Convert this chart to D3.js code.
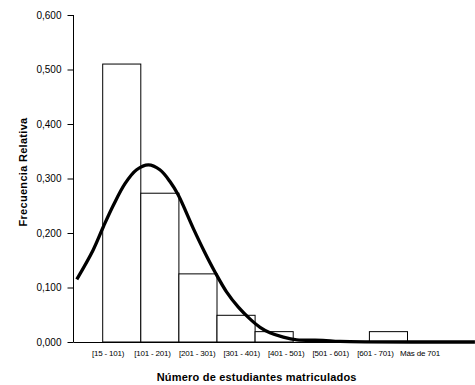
<!DOCTYPE html>
<html>
<head>
<meta charset="utf-8">
<script src="https://cdn.jsdelivr.net/npm/d3@7"></script>
<style>
	body { margin: 0; background: #fff; }
	text { font-family: "Liberation Sans", Arial, sans-serif; fill: #000; }
</style>
</head>
<body>
<div id="chart"></div>
<script>
// Class labels (x axis)
var categories = ["[15 - 101)", "[101 - 201)", "[201 - 301)", "[301 - 401)", "[401 - 501)", "[501 - 601)", "[601 - 701)", "Más de 701"];
// Relative frequency of each class (bar slot index, value)
var barSlots = [0, 1, 2, 3, 4, 5, 6, 7];
var barValues = [0.510, 0.273, 0.125, 0.049, 0.019, 0, 0, 0.019];
// Fitted curve (position in class widths, value)
var curveX = [-0.68, -0.25, 0.02, 0.28, 0.59, 0.89, 1.20, 1.50, 1.77, 1.98, 2.38, 2.66, 2.95, 3.25, 3.56, 3.87, 4.13, 4.39, 4.74, 5.09, 5.78, 6.23, 8.67, 9.77];
var curveY = [0.115, 0.169, 0.212, 0.251, 0.291, 0.316, 0.325, 0.316, 0.294, 0.270, 0.208, 0.167, 0.128, 0.092, 0.064, 0.042, 0.027, 0.017, 0.009, 0.004, 0.003, 0.001, 0.000, 0.000];
// Y ticks
var yTicks = [0, 0.1, 0.2, 0.3, 0.4, 0.5, 0.6];

var width = 475;
var height = 385;

var svg = d3.select("#chart").append("svg")
	.attr("width", width)
	.attr("height", height);

// Scales
var x = d3.scaleLinear()
	.domain([0, 8])
	.range([102.7, 407.5]);
var y = d3.scaleLinear()
	.domain([0, 0.6])
	.range([342, 15]);
var xLabel = d3.scalePoint()
	.domain(categories)
	.range([108, 420]);

var es = d3.formatLocale({decimal: ",", thousands: ".", grouping: [3], currency: ["", ""]});

// Y axis
var yAxis = svg.append("g")
	.attr("transform", "translate(73.5,0)")
	.call(d3.axisLeft(y).tickValues(yTicks).tickFormat(es.format(".3f")).tickSize(6).tickPadding(6));
yAxis.select(".domain").attr("d", "M0," + y(0.6) + "V" + y(0) + "").attr("stroke", "#000");
yAxis.selectAll(".tick line").attr("stroke", "#000");
yAxis.selectAll("text").style("font-size", "10px").attr("fill", "#000");

// Bars
svg.append("g")
	.selectAll("rect")
	.data(barSlots.filter(function(d, i){ return barValues[i] > 0; }))
	.enter().append("rect")
	.attr("x", function(d){ return x(d); })
	.attr("width", function(d){ return x(d + 1) - x(d); })
	.attr("y", function(d){ return y(barValues[d]); })
	.attr("height", function(d){ return y(0) - y(barValues[d]); })
	.attr("fill", "#fff")
	.attr("stroke", "#000")
	.attr("stroke-width", 1);

// X axis baseline
svg.append("line")
	.attr("x1", 73.5)
	.attr("x2", x(9.3))
	.attr("y1", y(0) + 0.5)
	.attr("y2", y(0) + 0.5)
	.attr("stroke", "#000");

// Category labels
svg.append("g")
	.selectAll("text")
	.data(categories)
	.enter().append("text")
	.attr("x", function(d){ return xLabel(d); })
	.attr("y", 355.5)
	.attr("text-anchor", "middle")
	.style("font-size", "8px")
	.style("letter-spacing", "-0.2px")
	.text(function(d){ return d; });

// Curve
var line = d3.line()
	.x(function(d, i){ return x(curveX[i]); })
	.y(function(d, i){ return y(curveY[i]); })
	.curve(d3.curveCatmullRom.alpha(0.5));
svg.append("path")
	.datum(curveX)
	.attr("d", line)
	.attr("fill", "none")
	.attr("stroke", "#000")
	.attr("stroke-width", 3.3)
	.attr("stroke-linejoin", "round");

// Axis titles
svg.append("text")
	.attr("x", 256.7)
	.attr("y", 380.5)
	.attr("text-anchor", "middle")
	.style("font-size", "11px")
	.style("font-weight", "bold")
	.style("letter-spacing", "0.2px")
	.text("Número de estudiantes matriculados");
svg.append("text")
	.attr("transform", "translate(26.5,172) rotate(-90)")
	.attr("text-anchor", "middle")
	.style("font-size", "11px")
	.style("font-weight", "bold")
	.style("letter-spacing", "0.3px")
	.text("Frecuencia Relativa");
</script>
</body>
</html>
